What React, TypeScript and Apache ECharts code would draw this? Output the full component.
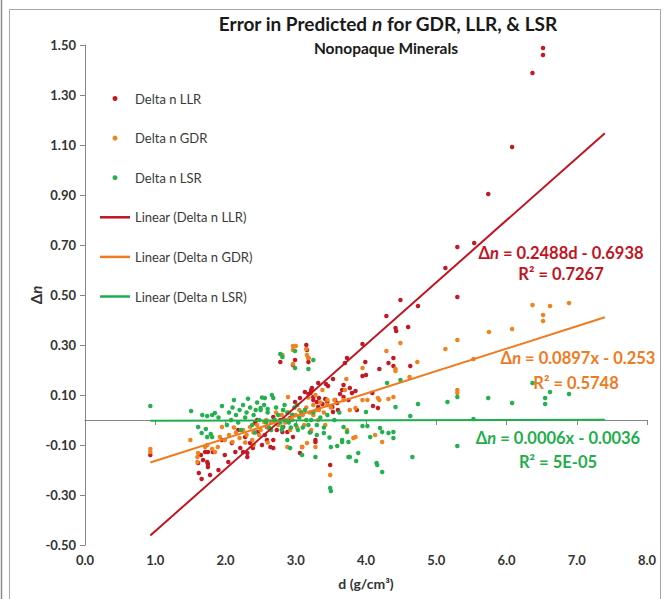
import React, { useEffect, useRef } from 'react';
import * as echarts from 'echarts';

// Δn values: [density d (g/cm³), Δn]
const llrPoints: [number, number][] = [
  [0.93, -0.14],
  [1.61, -0.172], [1.62, -0.212], [1.71, -0.128], [1.75, -0.128], [1.82, -0.128], [1.75, -0.176], [1.75, -0.188],
  [1.65, -0.14], [1.68, -0.16], [1.74, -0.168], [1.66, -0.236], [1.78, -0.22], [1.9, -0.2], [1.95, -0.08], [1.99, -0.14],
  [2.04, -0.168], [2.09, -0.092], [2.14, -0.128], [2.21, -0.112], [2.31, -0.132], [2.39, -0.112], [2.35, -0.092],
  [2.31, -0.148], [2.25, -0.128], [2.18, -0.04], [2.28, -0.068], [2.46, -0.048], [2.45, 0.0], [2.42, -0.012],
  [2.59, -0.08], [2.64, -0.108], [2.68, -0.112], [2.68, -0.08], [2.52, -0.1], [2.56, -0.06],
  [2.68, 0.012], [2.73, -0.04], [2.59, -0.028], [2.78, 0.0], [2.82, -0.028], [2.81, -0.048], [2.88, -0.048],
  [2.96, -0.068], [2.92, 0.008], [2.96, 0.02], [2.99, 0.072], [3.06, 0.088], [3.06, -0.132], [3.09, -0.108],
  [2.78, 0.232], [2.96, 0.22], [2.99, 0.24],
  [3.15, 0.3], [3.16, 0.28], [3.18, 0.248], [3.18, 0.232], [3.13, 0.112], [3.22, 0.12], [3.18, 0.104],
  [3.21, -0.048], [3.28, -0.08], [3.28, -0.088], [3.32, 0.052], [3.25, 0.08], [3.21, 0.108], [3.32, 0.148],
  [3.23, 0.128], [3.25, 0.092], [3.3, 0.072], [3.45, 0.072], [3.33, 0.088], [3.38, 0.064], [3.42, 0.084],
  [3.52, 0.052], [3.53, 0.032], [3.43, 0.144], [3.46, 0.136], [3.49, -0.18], [3.53, 0.164], [3.6, 0.04],
  [3.66, 0.12], [3.68, 0.092], [3.63, 0.104], [3.68, 0.14], [3.77, 0.128], [3.8, 0.108], [3.85, 0.116],
  [3.56, 0.08], [3.59, 0.068], [3.73, 0.248], [3.7, 0.228], [3.99, 0.232], [3.95, 0.304], [3.95, 0.176],
  [4.0, 0.18], [3.87, 0.04], [3.75, 0.08], [4.1, 0.056], [4.17, 0.048], [4.09, 0.108], [4.19, 0.204],
  [4.29, 0.416], [4.42, 0.368], [4.43, 0.356], [4.6, 0.372], [4.39, 0.248], [4.32, 0.228], [4.39, 0.216],
  [4.63, 0.216], [4.49, 0.48], [4.74, 0.456],
  [5.13, 0.608], [5.3, 0.692], [5.54, 0.708], [5.3, 0.492], [5.74, 0.904], [6.08, 1.092], [6.37, 1.388],
  [6.52, 1.488], [6.52, 1.46],
];

const gdrPoints: [number, number][] = [
  [0.93, -0.116], [0.93, -0.128],
  [1.5, -0.08], [1.61, -0.132], [1.6, -0.148], [1.71, -0.108], [1.74, -0.1], [1.81, -0.116], [1.85, -0.128],
  [1.6, -0.168], [1.95, -0.028], [1.92, -0.068], [1.99, -0.08], [1.89, -0.108],
  [2.05, -0.06], [2.1, -0.088], [2.15, -0.05], [2.2, -0.072], [2.25, -0.04], [2.3, -0.06], [2.35, -0.028],
  [2.4, -0.05], [2.45, -0.02], [2.5, -0.04], [2.55, -0.008], [2.6, -0.03], [2.12, -0.03], [2.28, -0.09],
  [2.38, -0.08], [2.48, -0.06], [2.58, 0.0], [2.4, -0.1], [2.6, -0.09],
  [2.89, 0.092], [2.88, -0.108], [3.09, -0.108], [3.16, -0.092], [2.65, -0.01], [2.7, 0.0], [2.75, -0.02],
  [2.8, 0.02], [2.85, -0.01], [2.9, 0.03], [2.95, 0.0], [3.0, 0.02], [3.05, 0.04], [2.72, 0.03], [2.82, 0.04],
  [2.92, -0.04], [3.02, -0.03],
  [2.96, 0.296], [3.0, 0.296], [3.15, 0.284], [2.96, 0.224], [3.18, 0.248], [2.96, 0.28], [2.81, 0.26], [3.16, 0.26],
  [3.1, 0.02], [3.15, 0.05], [3.2, 0.03], [3.25, 0.06], [3.3, 0.04], [3.35, 0.07], [3.4, 0.03], [3.45, 0.06],
  [3.5, 0.05], [3.55, 0.08], [3.12, -0.02], [3.22, -0.04], [3.32, 0.0], [3.42, -0.02], [3.28, 0.1], [3.38, 0.12],
  [3.18, 0.09], [3.45, 0.08], [3.33, 0.04], [3.25, 0.02], [3.28, -0.108], [3.49, -0.22],
  [3.7, 0.12], [3.72, 0.164], [3.68, 0.08], [3.77, 0.04], [3.85, 0.048], [3.95, 0.08], [4.02, 0.08],
  [3.95, 0.208], [4.13, -0.06], [4.23, -0.088], [3.85, -0.068], [3.73, -0.04], [3.82, -0.072],
  [4.19, 0.08], [4.32, 0.084], [4.39, 0.092], [4.17, 0.088], [4.42, 0.204], [4.42, 0.196], [4.29, 0.276],
  [4.49, 0.308], [4.62, 0.172], [4.73, 0.232],
  [5.13, 0.284], [5.3, 0.32], [5.3, 0.12], [5.3, 0.108], [5.53, 0.244], [5.75, 0.352], [6.08, 0.364],
  [6.37, 0.46], [6.62, 0.456], [6.89, 0.468], [6.52, 0.42], [6.52, 0.396],
];

const lsrPoints: [number, number][] = [
  [0.93, 0.056],
  [1.51, 0.036], [1.95, 0.056], [1.61, -0.028], [1.72, -0.036], [1.79, -0.056], [1.66, -0.052], [1.74, -0.068],
  [1.81, -0.068], [2.02, -0.02], [1.67, 0.02], [1.74, 0.016], [1.81, 0.02], [1.85, 0.028], [1.9, 0.01],
  [2.05, 0.03], [2.1, 0.05], [2.15, 0.02], [2.2, 0.04], [2.25, 0.06], [2.3, 0.03], [2.35, 0.05], [2.4, 0.02],
  [2.45, 0.07], [2.5, 0.04], [2.55, 0.06], [2.6, 0.03], [2.08, 0.0], [2.18, -0.01], [2.28, 0.01], [2.38, -0.02],
  [2.48, 0.0], [2.58, -0.01], [2.12, 0.08], [2.32, 0.085], [2.52, 0.09], [2.22, -0.04], [2.42, -0.05], [2.62, -0.03],
  [2.56, 0.088], [2.66, 0.1], [2.68, 0.088], [2.82, 0.04], [2.6, 0.044], [2.5, 0.048], [2.43, 0.04],
  [2.7, 0.0], [2.75, 0.02], [2.8, -0.04], [2.85, 0.0], [2.9, -0.01], [2.95, 0.02], [3.0, -0.02], [3.05, 0.01],
  [3.1, -0.03], [3.15, 0.0], [3.2, -0.05], [3.25, 0.03], [3.3, -0.02], [3.35, 0.01], [3.4, -0.03], [3.45, 0.02],
  [3.55, 0.0], [3.62, 0.03], [2.98, 0.05], [3.02, 0.06], [2.65, -0.04], [2.72, 0.05], [2.88, 0.03], [2.93, -0.03],
  [3.03, -0.04], [3.08, 0.03], [3.13, 0.04], [2.78, -0.01], [2.84, 0.06], [3.18, -0.02], [3.22, 0.0],
  [2.81, -0.028], [2.88, -0.08], [2.92, -0.112], [3.09, -0.14], [3.28, -0.148], [3.5, -0.108], [3.59, -0.104],
  [3.66, -0.088], [3.3, -0.06], [3.4, -0.052], [3.48, -0.07], [3.73, -0.048], [3.75, -0.148], [3.49, -0.272],
  [2.99, 0.276], [2.78, 0.264], [2.81, 0.252], [3.18, 0.204], [2.99, 0.208], [3.25, 0.24],
  [4.49, 0.16], [4.3, 0.148], [4.74, 0.064], [4.42, 0.052], [5.16, 0.072], [4.63, 0.016], [4.0, 0.032],
  [3.68, -0.028], [3.95, -0.024], [4.02, -0.024], [4.2, -0.032], [4.23, -0.048], [4.32, -0.052], [4.39, -0.048],
  [4.39, -0.072], [4.06, -0.068], [3.75, -0.088], [3.66, -0.08], [3.89, -0.132], [3.77, -0.148], [3.86, -0.164],
  [4.66, -0.148], [4.15, -0.172], [4.16, -0.18], [4.23, -0.208], [3.5, -0.284],
  [5.3, 0.092], [5.74, 0.088], [6.08, 0.068], [6.37, 0.148], [6.55, 0.088], [6.55, 0.064], [6.62, 0.112],
  [6.89, 0.104], [5.3, -0.104], [5.53, 0.004],
];

// Excel linear trendline end points
const llrTrend: [number, number][] = [[0.93, -0.462], [7.4, 1.147]];
const gdrTrend: [number, number][] = [[0.93, -0.17], [7.4, 0.411]];
const lsrTrend: [number, number][] = [[0.93, -0.003], [7.4, 0.001]];

const seriesNames = ['Delta n LLR', 'Delta n GDR', 'Delta n LSR'];
const trendNames = ['Linear (Delta n LLR)', 'Linear (Delta n GDR)', 'Linear (Delta n LSR)'];
const equations = ['= 0.2488d - 0.6938', '= 0.0897x - 0.253', '= 0.0006x - 0.0036'];
const r2Labels = ['R² = 0.7267', 'R² = 0.5748', 'R² = 5E-05'];

const FONT = 'Lato, "Open Sans", "Liberation Sans", sans-serif';
const RED = '#c0141f';
const ORANGE = '#f07a1e';
const GREEN = '#1fae4c';
const RED_DOT = '#c21a24';
const ORANGE_DOT = '#f2811f';
const GREEN_DOT = '#23b04e';
const LINE_ICON = 'path://M0 0H60V5H0Z';

export default function App() {
  const ref = useRef<HTMLDivElement>(null);
  useEffect(() => {
    const chart = echarts.init(ref.current!, null, { renderer: 'svg' });
    const eqText = (color: string, eq: string, x: number, y: number) => ({
      type: 'text',
      x,
      y,
      style: {
        text: `{d|Δ}{n|n}{d| ${eq}}`,
        align: 'center',
        verticalAlign: 'middle',
        rich: {
          d: { fontFamily: FONT, fontSize: 16.5, fontWeight: 'bold', fill: color },
          n: { fontFamily: FONT, fontSize: 16.5, fontWeight: 'bold', fontStyle: 'italic', fill: color },
        },
      },
    });
    const r2Text = (color: string, t: string, x: number, y: number) => ({
      type: 'text',
      x,
      y,
      style: {
        text: t,
        align: 'center',
        verticalAlign: 'middle',
        fontFamily: FONT,
        fontSize: 16.5,
        fontWeight: 'bold',
        fill: color,
      },
    });
    chart.setOption({
      animation: false,
      backgroundColor: '#ffffff',
      title: [
        {
          text: '{a|Error in Predicted }{i|n}{a| for GDR, LLR, & LSR}',
          left: 383,
          top: 9,
          textAlign: 'center',
          textStyle: {
            rich: {
              a: { fontFamily: FONT, fontSize: 19, fontWeight: 'bold', color: '#1a1a1a' },
              i: { fontFamily: FONT, fontSize: 19, fontWeight: 'bold', fontStyle: 'italic', color: '#1a1a1a' },
            },
          },
        },
        {
          text: 'Nonopaque Minerals',
          left: 381,
          top: 35,
          textAlign: 'center',
          textStyle: { fontFamily: FONT, fontSize: 15.5, fontWeight: 'bold', color: '#1a1a1a' },
        },
      ],
      legend: {
        orient: 'vertical',
        left: 95,
        top: 86,
        itemWidth: 30,
        itemHeight: 5,
        itemGap: 24.6,
        textStyle: { fontFamily: FONT, fontSize: 13, color: '#3a3a3a', lineHeight: 15 },
        data: [
          { name: seriesNames[0], icon: 'circle' },
          { name: seriesNames[1], icon: 'circle' },
          { name: seriesNames[2], icon: 'circle' },
          { name: trendNames[0], icon: LINE_ICON },
          { name: trendNames[1], icon: LINE_ICON },
          { name: trendNames[2], icon: LINE_ICON },
        ],
      },
      grid: { left: 85, right: 20, top: 45, bottom: 54, containLabel: false },
      xAxis: {
        type: 'value',
        min: 0,
        max: 8,
        interval: 1,
        name: 'd (g/cm³)',
        nameLocation: 'middle',
        nameGap: 31,
        nameTextStyle: { fontFamily: FONT, fontSize: 14, fontWeight: 'bold', color: '#333' },
        axisLine: { show: true, lineStyle: { color: '#868686', width: 1 } },
        axisTick: { show: true, inside: false, length: 5, lineStyle: { color: '#868686' } },
        axisLabel: {
          fontFamily: FONT,
          fontSize: 13,
          fontWeight: 'bold',
          color: '#333',
          margin: 8,
          formatter: (v: number) => v.toFixed(1),
        },
        splitLine: { show: false },
      },
      yAxis: {
        type: 'value',
        min: -0.5,
        max: 1.5,
        interval: 0.2,
        name: '{d|Δ}{n|n}',
        nameLocation: 'middle',
        nameGap: 42,
        nameRotate: 90,
        nameMoveOverlap: false,
        nameTextStyle: {
          rich: {
            d: { fontFamily: FONT, fontSize: 15, fontWeight: 'bold', color: '#333' },
            n: { fontFamily: FONT, fontSize: 15, fontWeight: 'bold', fontStyle: 'italic', color: '#333' },
          },
        },
        axisLine: { show: true, lineStyle: { color: '#868686', width: 1 } },
        axisTick: { show: true, inside: false, length: 5, lineStyle: { color: '#868686' } },
        axisLabel: {
          fontFamily: FONT,
          fontSize: 13,
          fontWeight: 'bold',
          color: '#333',
          margin: 9,
          formatter: (v: number) => v.toFixed(2),
        },
        splitLine: { show: false },
      },
      series: [
        {
          name: seriesNames[0],
          type: 'scatter',
          data: llrPoints,
          symbol: 'circle',
          symbolSize: 4.5,
          itemStyle: { color: RED_DOT, opacity: 1 },
          z: 2,
        },
        {
          name: seriesNames[1],
          type: 'scatter',
          data: gdrPoints,
          symbol: 'circle',
          symbolSize: 4.5,
          itemStyle: { color: ORANGE_DOT, opacity: 1 },
          z: 3,
        },
        {
          name: seriesNames[2],
          type: 'scatter',
          data: lsrPoints,
          symbol: 'circle',
          symbolSize: 4.5,
          itemStyle: { color: GREEN_DOT, opacity: 1 },
          z: 4,
        },
        {
          name: trendNames[0],
          type: 'line',
          data: llrTrend,
          symbol: 'none',
          lineStyle: { color: RED, width: 2 },
          itemStyle: { color: RED },
          z: 5,
        },
        {
          name: trendNames[1],
          type: 'line',
          data: gdrTrend,
          symbol: 'none',
          lineStyle: { color: ORANGE, width: 2 },
          itemStyle: { color: ORANGE },
          z: 5,
        },
        {
          name: trendNames[2],
          type: 'line',
          data: lsrTrend,
          symbol: 'none',
          lineStyle: { color: GREEN, width: 2 },
          itemStyle: { color: GREEN },
          z: 5,
        },
      ],
      graphic: [
        {
          type: 'rect',
          shape: { x: 9.5, y: 9.5, width: 651, height: 595 },
          style: { fill: 'none', stroke: '#a6a6a6', lineWidth: 1 },
          silent: true,
          z: -1,
        },
        {
          type: 'line',
          shape: { x1: 1.5, y1: 0, x2: 1.5, y2: 599 },
          style: { stroke: '#8c8c8c', lineWidth: 1.5 },
          silent: true,
        },
        eqText(RED, equations[0], 561, 253),
        r2Text(RED, r2Labels[0], 561, 274),
        eqText(ORANGE, equations[1], 578, 358),
        r2Text(ORANGE, r2Labels[1], 576, 383),
        eqText(GREEN, equations[2], 558, 438),
        r2Text(GREEN, r2Labels[2], 558, 462),
      ],
    });
    return () => chart.dispose();
  }, []);
  return (
    <div
      ref={ref}
      style={{ position: 'fixed', left: 0, top: 0, width: 667, height: 599, background: '#fff' }}
    />
  );
}
